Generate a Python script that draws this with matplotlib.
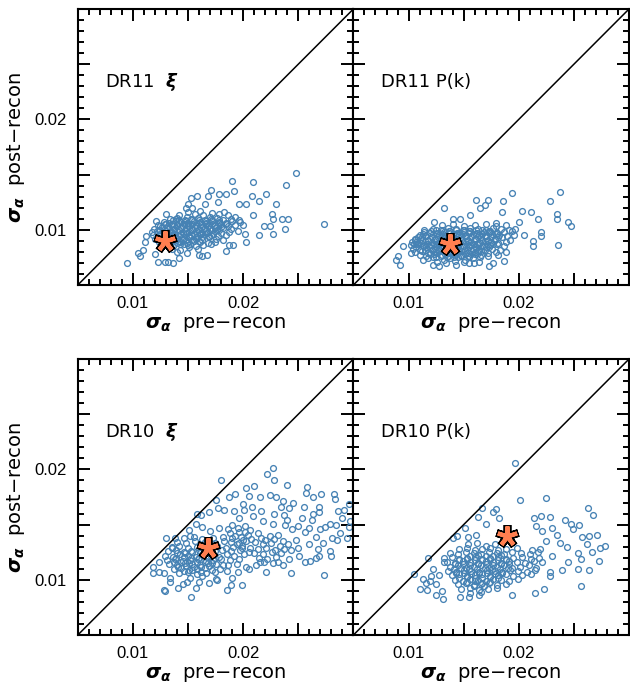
import numpy as np
import matplotlib
matplotlib.use('Agg')
import matplotlib.pyplot as plt
from matplotlib.ticker import MultipleLocator, FuncFormatter

plt.rcParams['mathtext.fontset'] = 'custom'
plt.rcParams['mathtext.it'] = 'DejaVu Sans:italic:bold'
plt.rcParams['mathtext.rm'] = 'DejaVu Sans'
plt.rcParams['mathtext.bf'] = 'DejaVu Sans:bold'

# all values in units of 1e-3 : (sigma pre-recon, sigma post-recon)
dr11_xi_pts = [
    (24.8, 15.1), (27.3, 10.5), (23.9, 14.1), (20.9, 14.3), (19.0, 14.4), (22.1, 13.2), (20.8, 13.1),
    (21.4, 12.6), (23.0, 12.3), (22.6, 11.4), (24.1, 11.0), (23.5, 11.0), (22.7, 11.0), (23.8, 10.1),
    (21.9, 10.3), (22.4, 10.3), (21.4, 9.5), (22.7, 9.6), (20.3, 8.9), (18.7, 8.6), (15.3, 12.9),
    (15.8, 13.1), (17.1, 13.6), (16.8, 13.1), (17.8, 13.2), (18.4, 13.2), (19.2, 13.5), (15.0, 12.3),
    (14.8, 12.0), (15.4, 12.0), (16.5, 12.3), (17.7, 12.5), (13.0, 11.4), (12.1, 10.8), (12.5, 10.3),
    (13.9, 11.0), (11.2, 9.4), (11.1, 8.9), (10.9, 8.2), (10.5, 7.9), (10.6, 7.6), (9.5, 7.0),
    (12.3, 7.1), (12.9, 7.1), (13.2, 7.1), (13.6, 7.0), (12.0, 7.8), (14.2, 7.4), (16.0, 7.7),
    (16.7, 7.7), (16.3, 7.6), (18.4, 8.1), (19.1, 8.6), (20.2, 9.6), (20.9, 11.3), (19.6, 12.3),
    (20.3, 12.3),
    (15.0, 11.6), (16.1, 11.7), (17.2, 11.5), (18.3, 11.6),
    (14.2, 11.3), (14.9, 11.2), (15.6, 11.4), (16.4, 11.3), (17.0, 11.2), (17.8, 11.4), (18.6, 11.3), (19.3, 11.2),
    (13.4, 11.0), (14.0, 11.1), (14.7, 10.9), (15.3, 11.0), (15.9, 11.1), (16.5, 10.9), (17.1, 11.0),
    (17.6, 11.1), (18.2, 10.9), (18.9, 11.0), (19.6, 10.9),
    (12.8, 10.7), (13.3, 10.6), (13.9, 10.8), (14.4, 10.7), (15.0, 10.6), (15.5, 10.8), (16.1, 10.7),
    (16.6, 10.6), (17.2, 10.8), (17.8, 10.7), (18.4, 10.6), (19.0, 10.8), (19.7, 10.7),
    (12.3, 10.4), (12.9, 10.5), (13.5, 10.3), (14.0, 10.4), (14.6, 10.5), (15.1, 10.3), (15.7, 10.4),
    (16.2, 10.5), (16.8, 10.3), (17.4, 10.4), (18.0, 10.5), (18.6, 10.3), (19.3, 10.4), (20.0, 10.4),
    (11.9, 10.1), (12.5, 10.0), (13.1, 10.2), (13.7, 10.1), (14.2, 10.0), (14.8, 10.2), (15.4, 10.1),
    (15.9, 10.0), (16.5, 10.2), (17.0, 10.1), (17.6, 10.0), (18.2, 10.2), (18.9, 10.1),
    (11.7, 9.8), (12.2, 9.9), (12.8, 9.7), (13.4, 9.8), (14.0, 9.9), (14.5, 9.7), (15.1, 9.8),
    (15.7, 9.9), (16.2, 9.7), (16.8, 9.8), (17.4, 9.9), (18.0, 9.7), (18.7, 9.8), (19.5, 9.9),
    (11.8, 9.5), (12.4, 9.4), (13.0, 9.6), (13.6, 9.5), (14.2, 9.4), (14.8, 9.6), (15.3, 9.5),
    (15.9, 9.4), (16.5, 9.6), (17.1, 9.5), (17.7, 9.4), (18.4, 9.5),
    (12.0, 9.2), (12.7, 9.1), (13.3, 9.3), (13.9, 9.2), (14.5, 9.1), (15.1, 9.3), (15.7, 9.2),
    (16.3, 9.1), (16.9, 9.3), (17.5, 9.2), (18.2, 9.1),
    (12.4, 8.9), (13.1, 8.8), (13.7, 9.0), (14.3, 8.9), (14.9, 8.8), (15.5, 9.0), (16.1, 8.9),
    (16.8, 8.8), (17.4, 8.9),
    (12.9, 8.6), (13.6, 8.5), (14.3, 8.7), (15.0, 8.6), (15.7, 8.5), (16.4, 8.6), (17.1, 8.7),
    (13.5, 8.3), (14.3, 8.2), (15.1, 8.4), (15.9, 8.3), (14.0, 8.0), (14.9, 7.9),
    (13.6, 10.85), (14.2, 10.9), (14.8, 10.8), (15.4, 10.85), (16.0, 10.9), (16.6, 10.8), (17.2, 10.85), (17.8, 10.9),
    (13.0, 10.55), (13.6, 10.5), (14.2, 10.6), (14.8, 10.55), (15.4, 10.5), (16.0, 10.6), (16.6, 10.55),
    (17.2, 10.5), (17.8, 10.6), (18.4, 10.55),
    (12.6, 10.25), (13.2, 10.3), (13.8, 10.2), (14.4, 10.25), (15.0, 10.3), (15.6, 10.2), (16.2, 10.25),
    (16.8, 10.3), (17.4, 10.2), (18.0, 10.25),
    (12.4, 9.95), (13.0, 9.9), (13.6, 10.0), (14.2, 9.95), (14.8, 9.9), (15.4, 10.0), (16.0, 9.95),
    (16.6, 9.9), (17.2, 10.0), (17.8, 9.95),
    (12.5, 9.65), (13.1, 9.7), (13.7, 9.6), (14.3, 9.65), (14.9, 9.7), (15.5, 9.6), (16.1, 9.65),
    (16.7, 9.7), (17.3, 9.6),
    (12.7, 9.35), (13.3, 9.4), (13.9, 9.3), (14.5, 9.35), (15.1, 9.4), (15.7, 9.3), (16.3, 9.35), (16.9, 9.4),
    (13.0, 9.05), (13.6, 9.1), (14.2, 9.0), (14.8, 9.05), (15.4, 9.1), (16.0, 9.0),
    (13.4, 8.75), (14.0, 8.8), (14.6, 8.7), (15.2, 8.75),
]

dr11_pk_pts = [
    (23.7, 13.4), (22.8, 12.6), (19.4, 13.3), (18.6, 12.6), (17.2, 12.7), (16.1, 12.7), (13.2, 12.0),
    (16.5, 12.0), (16.9, 12.2), (20.3, 11.7), (21.1, 11.6), (21.7, 11.0), (23.5, 11.4), (23.5, 11.0),
    (24.5, 10.7), (24.7, 10.3), (22.0, 9.8), (22.0, 9.4), (21.3, 9.0), (21.3, 8.5), (23.6, 8.6),
    (20.5, 9.5), (19.7, 10.1), (20.0, 10.7), (18.7, 7.2), (17.7, 7.0), (17.3, 6.7), (18.1, 7.7),
    (18.8, 8.0), (9.5, 8.5), (9.0, 7.6), (9.2, 6.8), (8.9, 7.3), (10.2, 7.9), (10.7, 8.9),
    (11.4, 10.0), (12.3, 10.7), (14.0, 11.0), (14.7, 11.0), (15.6, 11.3), (15.5, 7.0), (14.3, 6.8),
    (12.2, 6.8), (11.3, 7.3), (12.8, 6.7), (16.4, 7.1), (17.9, 10.6), (18.5, 11.6),
    (13.0, 10.4), (14.0, 10.5), (15.0, 10.3), (16.0, 10.4), (17.0, 10.5), (17.9, 10.3), (18.8, 10.4),
    (12.2, 10.1), (12.9, 10.0), (13.6, 10.2), (14.3, 10.1), (15.0, 10.0), (15.6, 10.2), (16.3, 10.1),
    (17.0, 10.0), (17.7, 10.2), (18.4, 10.1), (19.1, 10.0),
    (11.4, 9.8), (12.0, 9.9), (12.6, 9.7), (13.2, 9.8), (13.8, 9.9), (14.4, 9.7), (15.0, 9.8),
    (15.6, 9.9), (16.2, 9.7), (16.8, 9.8), (17.4, 9.9), (18.0, 9.7), (18.7, 9.8), (19.4, 9.9),
    (11.0, 9.5), (11.6, 9.4), (12.2, 9.6), (12.8, 9.5), (13.4, 9.4), (14.0, 9.6), (14.6, 9.5),
    (15.2, 9.4), (15.8, 9.6), (16.4, 9.5), (17.0, 9.4), (17.6, 9.6), (18.2, 9.5), (18.9, 9.4), (19.6, 9.5),
    (10.6, 9.2), (11.2, 9.3), (11.8, 9.1), (12.4, 9.2), (13.0, 9.3), (13.6, 9.1), (14.2, 9.2),
    (14.8, 9.3), (15.4, 9.1), (16.0, 9.2), (16.6, 9.3), (17.2, 9.1), (17.8, 9.2), (18.5, 9.3), (19.2, 9.1),
    (10.3, 8.9), (10.9, 8.8), (11.5, 9.0), (12.1, 8.9), (12.7, 8.8), (13.3, 9.0), (13.9, 8.9),
    (14.5, 8.8), (15.1, 9.0), (15.7, 8.9), (16.3, 8.8), (16.9, 9.0), (17.5, 8.9), (18.1, 8.8), (18.8, 8.9),
    (10.2, 8.6), (10.8, 8.7), (11.4, 8.5), (12.0, 8.6), (12.6, 8.7), (13.2, 8.5), (13.8, 8.6),
    (14.4, 8.7), (15.0, 8.5), (15.6, 8.6), (16.2, 8.7), (16.8, 8.5), (17.4, 8.6), (18.0, 8.7), (18.7, 8.5),
    (10.4, 8.3), (11.0, 8.2), (11.6, 8.4), (12.2, 8.3), (12.8, 8.2), (13.4, 8.4), (14.0, 8.3),
    (14.6, 8.2), (15.2, 8.4), (15.8, 8.3), (16.4, 8.2), (17.0, 8.4), (17.6, 8.3), (18.3, 8.2),
    (10.6, 8.0), (11.2, 8.1), (11.8, 7.9), (12.4, 8.0), (13.0, 8.1), (13.6, 7.9), (14.2, 8.0),
    (14.8, 8.1), (15.4, 7.9), (16.0, 8.0), (16.6, 8.1), (17.2, 7.9), (17.9, 8.0),
    (11.0, 7.7), (11.6, 7.6), (12.3, 7.8), (13.0, 7.7), (13.6, 7.6), (14.2, 7.8), (14.8, 7.7),
    (15.4, 7.6), (16.0, 7.8), (16.6, 7.7), (17.2, 7.6),
    (11.8, 7.4), (12.5, 7.5), (13.2, 7.3), (13.8, 7.4), (14.5, 7.5), (15.1, 7.3), (15.8, 7.4), (16.5, 7.5),
    (12.6, 7.1), (13.4, 7.0), (14.2, 7.2), (15.0, 7.1), (15.9, 7.0),
    (12.5, 9.95), (13.1, 10.0), (13.7, 9.9), (14.3, 9.95), (14.9, 10.0), (15.5, 9.9), (16.1, 9.95),
    (16.7, 10.0), (17.3, 9.9),
    (11.3, 9.65), (11.9, 9.7), (12.5, 9.6), (13.1, 9.65), (13.7, 9.7), (14.3, 9.6), (14.9, 9.65),
    (15.5, 9.7), (16.1, 9.6), (16.7, 9.65), (17.3, 9.7), (17.9, 9.6),
    (10.9, 9.35), (11.5, 9.4), (12.1, 9.3), (12.7, 9.35), (13.3, 9.4), (13.9, 9.3), (14.5, 9.35),
    (15.1, 9.4), (15.7, 9.3), (16.3, 9.35), (16.9, 9.4), (17.5, 9.3), (18.1, 9.35),
    (10.6, 9.05), (11.2, 9.1), (11.8, 9.0), (12.4, 9.05), (13.0, 9.1), (13.6, 9.0), (14.2, 9.05),
    (14.8, 9.1), (15.4, 9.0), (16.0, 9.05), (16.6, 9.1), (17.2, 9.0), (17.8, 9.05),
    (10.5, 8.75), (11.1, 8.8), (11.7, 8.7), (12.3, 8.75), (12.9, 8.8), (13.5, 8.7), (14.1, 8.75),
    (14.7, 8.8), (15.3, 8.7), (15.9, 8.75), (16.5, 8.8), (17.1, 8.7), (17.7, 8.75),
    (10.7, 8.45), (11.3, 8.5), (11.9, 8.4), (12.5, 8.45), (13.1, 8.5), (13.7, 8.4), (14.3, 8.45),
    (14.9, 8.5), (15.5, 8.4), (16.1, 8.45), (16.7, 8.5), (17.3, 8.4),
    (11.5, 8.15), (12.1, 8.2), (12.7, 8.1), (13.3, 8.15), (13.9, 8.2), (14.5, 8.1), (15.1, 8.15),
    (15.7, 8.2), (16.3, 8.1), (16.9, 8.15),
    (11.9, 7.85), (12.6, 7.9), (13.3, 7.8), (13.9, 7.85), (14.5, 7.9), (15.1, 7.8), (15.7, 7.85), (16.3, 7.9),
    (12.2, 7.55), (12.9, 7.6), (13.5, 7.5), (14.1, 7.55), (14.8, 7.6), (15.5, 7.5),
]

dr10_xi_pts = [
    (22.7, 20.1), (22.2, 19.6), (22.8, 19.0), (18.0, 19.0), (20.3, 18.3), (21.0, 18.5), (24.0, 18.6),
    (25.8, 18.4), (25.7, 17.9), (27.1, 17.8), (26.3, 17.5), (28.2, 17.8), (28.3, 17.3), (29.6, 16.9),
    (29.1, 16.3), (28.6, 16.2), (26.9, 16.1), (26.3, 16.0), (25.5, 16.6), (24.5, 17.0), (23.6, 17.1),
    (23.4, 16.6), (22.4, 17.7), (21.5, 17.5), (20.0, 16.9), (18.7, 17.5), (17.5, 17.2), (15.8, 16.0),
    (16.2, 15.9), (16.9, 16.1), (17.7, 16.5), (18.3, 16.3), (19.2, 16.2), (20.1, 16.3), (20.9, 15.8),
    (21.8, 15.3), (22.7, 15.1), (23.7, 15.9), (24.0, 15.4), (25.3, 15.6), (26.2, 15.4), (27.9, 15.1),
    (28.4, 15.0), (28.8, 14.2), (29.6, 14.8), (29.4, 13.8), (28.1, 13.8), (26.6, 13.9), (27.2, 13.3),
    (26.0, 13.2), (26.8, 12.8), (25.1, 12.2), (26.9, 12.2), (26.1, 11.7), (27.9, 12.6), (27.3, 10.4),
    (24.2, 11.9), (23.6, 11.3), (22.1, 10.7), (21.2, 11.3), (19.9, 9.5), (18.5, 9.1), (18.9, 9.5),
    (15.3, 8.4), (12.8, 9.1), (12.9, 9.0), (11.8, 10.6), (12.4, 10.7), (14.1, 9.3), (15.7, 9.3),
    (16.9, 9.7), (14.9, 9.8), (13.4, 9.8), (13.5, 12.9), (13.8, 13.8), (15.1, 14.5), (15.7, 15.1),
    (29.7, 15.3), (28.5, 13.6),
    (24.4, 14.6), (25.0, 14.9), (25.6, 14.3), (24.8, 13.6), (26.0, 14.7), (27.0, 14.6), (24.3, 12.7),
    (25.0, 12.9), (23.8, 15.0), (22.8, 16.0), (21.6, 16.2), (20.8, 16.6), (19.6, 15.6), (17.0, 14.4),
    (17.8, 14.7), (16.3, 14.8), (15.2, 14.0), (13.0, 13.8), (12.4, 11.6), (12.8, 10.6), (13.4, 10.2),
    (11.8, 11.2), (14.5, 9.6), (16.0, 9.8), (17.6, 10.0), (19.0, 10.2), (20.5, 11.0), (21.5, 11.6),
    (23.2, 11.6), (25.6, 11.6), (24.3, 10.6), (26.6, 12.0), (28.0, 12.2), (27.4, 14.8), (29.0, 15.6),
    (26.9, 16.6), (24.2, 16.5), (23.0, 17.5), (20.5, 17.6), (19.3, 17.8),
    (14.6, 13.8), (15.5, 13.9), (16.3, 13.7), (17.3, 13.8), (18.2, 13.9),
    (14.0, 13.4), (14.8, 13.3), (15.6, 13.5), (16.5, 13.4), (17.4, 13.3), (18.3, 13.5),
    (13.5, 13.0), (14.2, 13.1), (15.0, 12.9), (15.8, 13.0), (17.6, 13.1), (18.4, 12.9),
    (13.2, 12.6), (13.9, 12.7), (14.6, 12.5), (15.3, 12.6), (16.0, 12.7), (16.7, 12.5), (17.4, 12.6), (18.1, 12.7),
    (12.9, 12.2), (13.6, 12.1), (14.3, 12.3), (15.0, 12.2), (15.7, 12.1), (16.4, 12.3), (17.1, 12.2),
    (17.8, 12.1), (18.5, 12.3),
    (13.1, 11.8), (13.8, 11.9), (14.5, 11.7), (15.2, 11.8), (15.9, 11.9), (16.6, 11.7), (17.3, 11.8), (18.0, 11.9),
    (13.3, 11.4), (14.0, 11.3), (14.7, 11.5), (15.4, 11.4), (16.1, 11.3), (16.8, 11.5), (17.5, 11.4), (18.2, 11.3),
    (13.7, 11.0), (14.4, 11.1), (15.1, 10.9), (15.8, 11.0), (16.5, 11.1), (17.2, 10.9), (17.9, 11.0),
    (14.2, 10.6), (15.0, 10.7), (15.8, 10.5), (16.6, 10.6), (17.4, 10.7),
    (15.2, 10.2), (16.3, 10.3), (17.5, 10.1),
    (19.0, 15.0), (20.2, 14.9), (18.6, 14.6), (19.5, 14.7), (20.6, 14.5),
    (18.8, 14.2), (19.6, 14.3), (20.4, 14.1), (21.3, 14.2),
    (19.0, 13.8), (19.8, 13.9), (20.7, 13.7), (21.6, 13.8),
    (18.9, 13.4), (19.6, 13.3), (20.3, 13.5), (21.1, 13.4),
    (19.1, 13.0), (19.9, 13.1), (20.6, 12.9),
    (18.9, 12.6), (19.7, 12.7), (20.5, 12.5), (19.2, 12.2), (20.1, 12.3),
    (18.8, 11.8), (19.6, 11.9), (18.6, 11.3), (19.4, 11.4), (20.3, 11.2), (18.5, 10.8), (19.5, 10.7),
    (22.4, 14.0), (23.2, 14.1), (22.0, 13.6), (22.8, 13.7), (23.6, 13.5),
    (21.8, 13.2), (22.5, 13.3), (23.3, 13.1), (24.1, 13.2),
    (21.3, 12.8), (22.1, 12.9), (22.9, 12.7), (23.7, 12.8),
    (21.0, 12.4), (21.8, 12.3), (22.6, 12.5), (23.4, 12.4),
    (21.4, 12.0), (22.2, 11.9), (23.0, 12.1), (21.9, 11.6), (22.7, 11.5),
    (14.0, 12.45), (14.7, 12.4), (15.4, 12.5), (16.1, 12.45), (16.8, 12.4),
    (13.9, 12.0), (14.6, 12.05), (15.3, 11.95), (16.0, 12.0), (16.7, 12.05), (17.4, 11.95),
    (13.7, 11.6), (14.4, 11.65), (15.1, 11.55), (15.8, 11.6), (16.5, 11.65), (17.2, 11.55),
    (14.1, 11.2), (14.8, 11.25), (15.5, 11.15), (16.2, 11.2), (16.9, 11.25),
    (14.6, 10.8), (15.4, 10.85), (16.2, 10.75),
    (19.3, 14.0), (20.0, 13.6), (19.4, 13.2), (20.2, 14.3), (19.9, 12.9),
]

dr10_pk_pts = [
    (19.7, 20.6), (20.1, 17.2), (22.5, 17.4), (16.7, 16.5), (17.9, 16.4), (17.7, 16.1), (18.2, 15.6),
    (16.3, 15.7), (17.0, 15.1), (15.1, 14.7), (14.0, 13.8), (14.4, 14.0), (15.4, 13.9), (16.1, 14.1),
    (11.8, 12.0), (10.5, 10.5), (11.3, 10.1), (11.6, 9.7), (11.0, 9.2), (11.7, 9.1), (12.5, 8.6),
    (13.1, 8.3), (14.7, 8.4), (15.5, 8.4), (16.4, 8.6), (19.4, 8.6), (21.5, 8.8), (22.3, 9.2),
    (25.6, 9.4), (21.4, 15.6), (22.0, 15.8), (22.8, 15.7), (21.6, 14.9), (22.1, 14.4), (23.0, 14.7),
    (23.5, 14.1), (24.2, 15.4), (24.7, 15.1), (25.5, 15.0), (24.9, 14.6), (26.3, 16.5), (26.7, 15.9),
    (27.1, 14.1), (25.7, 13.9), (26.4, 14.0), (26.2, 13.2), (27.4, 12.9), (27.8, 13.1), (26.6, 12.5),
    (27.3, 11.7), (25.4, 12.4), (25.6, 11.9), (26.4, 10.9), (25.4, 11.0), (24.4, 13.0), (24.5, 11.6),
    (23.9, 10.9), (22.8, 10.3), (22.8, 10.7), (23.0, 12.2), (23.7, 13.3), (22.5, 13.5),
    (12.2, 11.0), (12.8, 10.4), (12.5, 9.6), (13.0, 9.0), (12.0, 10.3), (13.2, 11.6), (11.9, 9.9),
    (15.4, 13.2), (16.2, 13.3), (17.0, 13.1), (17.8, 13.2),
    (14.6, 12.8), (15.3, 12.9), (16.0, 12.7), (16.7, 12.8), (17.4, 12.9), (18.1, 12.7), (18.8, 12.8),
    (19.8, 12.9), (21.2, 12.7), (21.9, 12.8),
    (13.8, 12.4), (14.5, 12.3), (15.2, 12.5), (15.9, 12.4), (16.6, 12.3), (17.3, 12.5), (18.0, 12.4),
    (18.7, 12.3), (19.4, 12.5), (20.2, 12.4), (21.0, 12.3), (21.7, 12.5),
    (13.2, 12.0), (13.9, 12.1), (14.6, 11.9), (15.3, 12.0), (16.0, 12.1), (16.7, 11.9), (17.4, 12.0),
    (18.1, 12.1), (18.8, 11.9), (19.5, 12.0), (20.3, 12.1), (21.1, 11.9), (21.8, 12.0),
    (13.5, 11.6), (14.2, 11.5), (14.9, 11.7), (15.6, 11.6), (16.3, 11.5), (17.0, 11.7), (17.7, 11.6),
    (18.4, 11.5), (19.1, 11.7), (19.8, 11.6), (20.6, 11.5), (21.4, 11.7), (22.1, 11.6),
    (13.8, 11.2), (14.5, 11.3), (15.2, 11.1), (15.9, 11.2), (16.6, 11.3), (17.3, 11.1), (18.0, 11.2),
    (18.7, 11.3), (19.4, 11.1), (20.1, 11.2), (20.9, 11.3), (21.6, 11.1),
    (13.6, 10.8), (14.3, 10.7), (15.0, 10.9), (15.7, 10.8), (16.4, 10.7), (17.1, 10.9), (17.8, 10.8),
    (18.5, 10.7), (19.2, 10.9), (19.9, 10.8), (20.7, 10.7), (21.5, 10.9),
    (13.9, 10.4), (14.6, 10.5), (15.3, 10.3), (16.0, 10.4), (16.7, 10.5), (17.4, 10.3), (18.1, 10.4),
    (18.8, 10.5), (19.5, 10.3), (20.3, 10.4), (21.1, 10.5),
    (14.2, 10.0), (14.9, 9.9), (15.6, 10.1), (16.3, 10.0), (17.0, 9.9), (17.7, 10.1), (18.4, 10.0),
    (19.1, 9.9), (19.9, 10.1),
    (14.5, 9.6), (15.2, 9.7), (15.9, 9.5), (16.6, 9.6), (17.3, 9.7), (18.0, 9.5), (18.8, 9.6),
    (14.8, 9.2), (15.6, 9.3), (16.4, 9.1), (17.2, 9.2), (18.0, 9.3),
    (15.6, 8.8), (16.6, 8.9),
    (15.6, 12.2), (16.3, 12.25), (17.0, 12.15), (17.7, 12.2), (18.4, 12.25),
    (14.6, 11.8), (15.3, 11.85), (16.0, 11.75), (16.7, 11.8), (17.4, 11.85), (18.1, 11.75), (18.8, 11.8),
    (14.2, 11.4), (14.9, 11.45), (15.6, 11.35), (16.3, 11.4), (17.0, 11.45), (17.7, 11.35), (18.4, 11.4), (19.1, 11.45),
    (14.1, 11.0), (14.8, 11.05), (15.5, 10.95), (16.2, 11.0), (16.9, 11.05), (17.6, 10.95), (18.3, 11.0), (19.0, 11.05),
    (14.3, 10.6), (15.0, 10.65), (15.7, 10.55), (16.4, 10.6), (17.1, 10.65), (17.8, 10.55), (18.5, 10.6),
    (14.6, 10.2), (15.3, 10.25), (16.0, 10.15), (16.7, 10.2), (17.4, 10.25), (18.1, 10.15),
    (15.3, 9.8), (16.0, 9.85), (16.7, 9.75), (17.4, 9.8),
    (15.9, 9.4), (16.8, 9.45),
]

# orange stars
stars = [(12.9, 9.0), (13.8, 8.7), (16.8, 12.9), (18.9, 13.95)]
panel_names = ['DR11  $\\xi$', 'DR11 P(k)', 'DR10  $\\xi$', 'DR10 P(k)']
panel_pts = [dr11_xi_pts, dr11_pk_pts, dr10_xi_pts, dr10_pk_pts]

lims = (0.005, 0.030)
blue = '#4682b4'
orange = '#ff7f50'

fig = plt.figure(figsize=(6.3, 6.9), dpi=100)
rects = [[0.1235, 0.587, 0.4375, 0.4], [0.561, 0.587, 0.4375, 0.4],
         [0.1235, 0.0797, 0.4375, 0.4], [0.561, 0.0797, 0.4375, 0.4]]


def tick_fmt(v, pos):
    if abs(v - 0.01) < 1e-6 or abs(v - 0.02) < 1e-6:
        return '%.2f' % v
    return ''


for i in range(4):
    ax = fig.add_axes(rects[i])
    pts = np.array(panel_pts[i]) * 1e-3
    ax.plot(pts[:, 0], pts[:, 1], 'o', ls='none', mfc='none', mec=blue, ms=4.2, mew=0.95)
    ax.axline((0, 0), slope=1, color='k', lw=1.1)
    sx, sy = np.array(stars[i]) * 1e-3
    ax.plot(sx, sy, marker=(5, 2, 0), ms=16.5, mec='k', mew=5.6, ls='none')
    ax.plot(sx, sy, marker=(5, 2, 0), ms=14.5, mec=orange, mew=3.0, ls='none')

    ax.set_xlim(lims)
    ax.set_ylim(lims)
    for s in ax.spines.values():
        s.set_linewidth(1.5)
    ax.xaxis.set_major_locator(MultipleLocator(0.005))
    ax.yaxis.set_major_locator(MultipleLocator(0.005))
    ax.xaxis.set_minor_locator(MultipleLocator(0.001))
    ax.yaxis.set_minor_locator(MultipleLocator(0.001))
    ax.xaxis.set_major_formatter(FuncFormatter(tick_fmt))
    ax.yaxis.set_major_formatter(FuncFormatter(tick_fmt))
    ax.tick_params(which='both', direction='in', top=True, right=True, width=1.4)
    ax.tick_params(which='major', length=8.5, pad=8, labelsize=12)
    ax.tick_params(which='minor', length=4.2)
    for lab in ax.get_xticklabels() + ax.get_yticklabels():
        lab.set_family('Liberation Sans')

    ax.text(0.1, 0.716, panel_names[i], transform=ax.transAxes, fontsize=13,
            family='DejaVu Sans', va='baseline', ha='left')
    ax.set_xlabel('$\\sigma_\\alpha$  pre\u2212recon', fontsize=14, family='DejaVu Sans', labelpad=3)
    if i % 2 == 0:
        ax.set_ylabel('$\\sigma_\\alpha$  post\u2212recon', fontsize=14, family='DejaVu Sans', labelpad=5)
    else:
        ax.tick_params(labelleft=False)

fig.savefig('out.png', dpi=100)
